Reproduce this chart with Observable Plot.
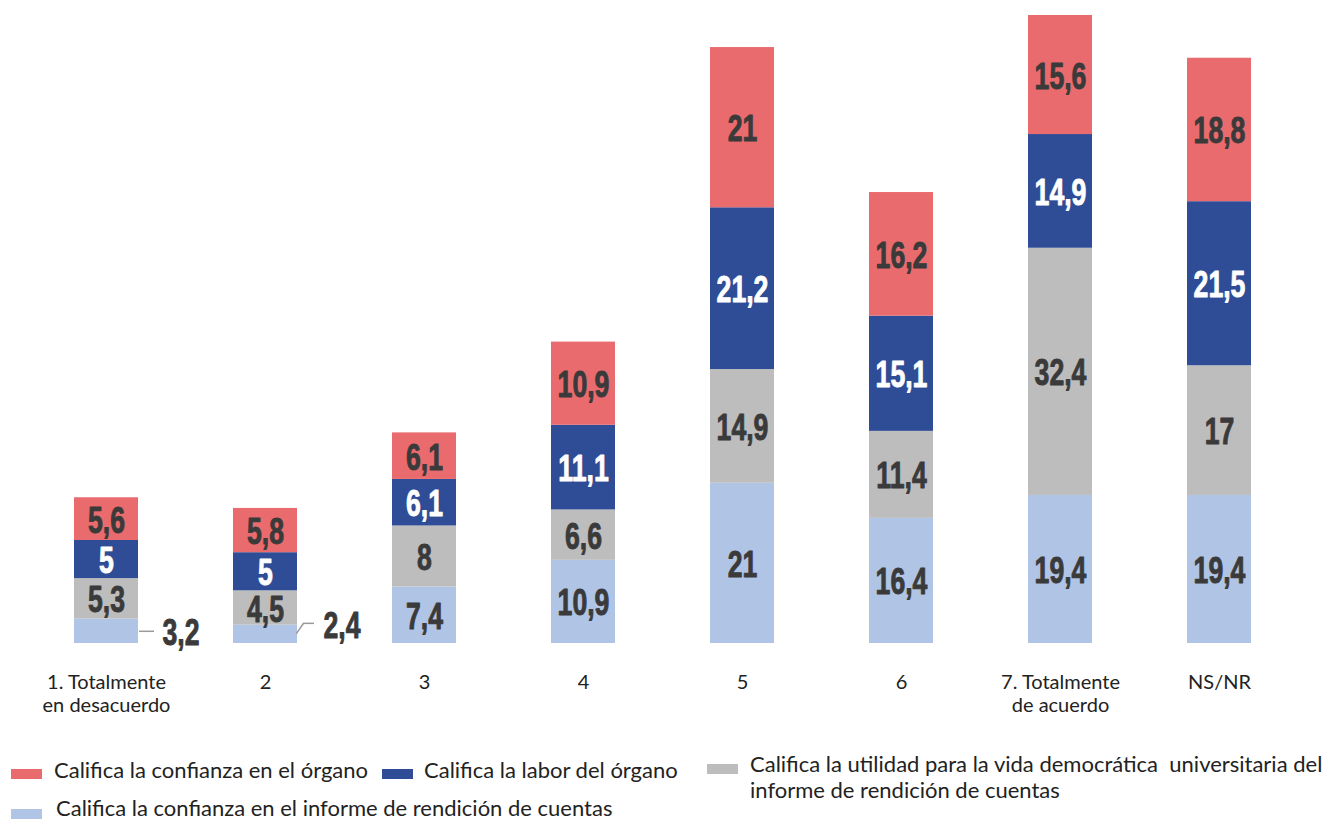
<!DOCTYPE html>
<html><head><meta charset="utf-8">
<script src="https://cdn.jsdelivr.net/npm/d3@7"></script>
<script src="https://cdn.jsdelivr.net/npm/@observablehq/plot@0.6"></script>
<style>
body{margin:0;background:#fff;}
#wrap{position:relative;width:1342px;height:819px;overflow:hidden;font-family:Lato,"Open Sans",sans-serif;color:#222;background:#fff;}
.sw{position:absolute;width:31px;height:10px;}
.lt{position:absolute;font-size:22px;line-height:26px;white-space:nowrap;}
</style></head><body><div id="wrap"><div id="chart"></div>
<div class="sw" style="left:11px;top:769px;background:#E96B6E"></div>
<div class="lt" style="left:54px;top:757px">Califica la confianza en el órgano</div>
<div class="sw" style="left:382px;top:769px;background:#2E4D96"></div>
<div class="lt" style="left:424px;top:757px">Califica la labor del órgano</div>
<div class="sw" style="left:707px;top:764px;background:#BDBDBD"></div>
<div class="lt" style="left:750px;top:751px">Califica la utilidad para la vida democrática&nbsp; universitaria del<br>informe de rendición de cuentas</div>
<div class="sw" style="left:11px;top:809px;background:#B0C4E6"></div>
<div class="lt" style="left:56px;top:797px;line-height:22px">Califica la confianza en el informe de rendición de cuentas</div>
</div>
<script>
const categories = ["1. Totalmente\nen desacuerdo","2","3","4","5","6","7. Totalmente\nde acuerdo","NS/NR"];
const series = [
  "Califica la confianza en el informe de rendición de cuentas",
  "Califica la utilidad para la vida democrática universitaria del informe de rendición de cuentas",
  "Califica la labor del órgano",
  "Califica la confianza en el órgano"
];
const colors = ["#B0C4E6","#BDBDBD","#2E4D96","#E96B6E"];
const confianzaInforme = [3.2,2.4,7.4,10.9,21,16.4,19.4,19.4];
const utilidad = [5.3,4.5,8,6.6,14.9,11.4,32.4,17];
const labor = [5,5,6.1,11.1,21.2,15.1,14.9,21.5];
const confianzaOrgano = [5.6,5.8,6.1,10.9,21,16.2,15.6,18.8];

const fmt = v => String(v).replace(".", ",");
const rows = [];
categories.forEach((c, i) => [confianzaInforme, utilidad, labor, confianzaOrgano].forEach((arr, k) =>
  rows.push({cat: c, series: series[k], value: arr[i]})));
const small = rows.filter(d => d.series === series[0] && d.value < 4);
const labFont = "'Liberation Sans',Arial,sans-serif";
const labStyle = {fontSize: 36, fontWeight: "bold", fontFamily: labFont, className: "seg", strokeWidth: 0.9};
const dark = "#3a3a3a";

const marks = [
  Plot.barY(rows, {x: "cat", y: "value", fill: "series", z: "series"}),
  Plot.text(rows, Plot.stackY({x: "cat", y: "value", z: "series",
    text: d => (d.series === series[2] || d.value < 4) ? "" : fmt(d.value),
    fill: dark, stroke: dark, dy: 2, ...labStyle})),
  Plot.text(rows, Plot.stackY({x: "cat", y: "value", z: "series",
    text: d => d.series === series[2] ? fmt(d.value) : "",
    fill: "#ffffff", stroke: "#ffffff", dy: 2, ...labStyle})),
  Plot.tickY(small.slice(0, 1), {x: "cat", y: d => d.value / 2, dx: 65, insetRight: 49, stroke: "#9a9a9a", strokeWidth: 1.5}),
  Plot.tickY(small.slice(1), {x: "cat", y: d => d.value / 2, dx: 70, dy: -11, insetRight: 53, stroke: "#9a9a9a", strokeWidth: 1.5}),
  Plot.text(small.slice(0, 1), {x: "cat", y: d => d.value / 2, text: d => fmt(d.value), textAnchor: "start", dx: 56, dy: 2,
    fill: dark, stroke: dark, ...labStyle}),
  Plot.text(small.slice(1), {x: "cat", y: d => d.value / 2, text: d => fmt(d.value), textAnchor: "start", dx: 58, dy: -8,
    fill: dark, stroke: dark, ...labStyle}),
  Plot.text(categories, {x: d => d, frameAnchor: "bottom", lineAnchor: "top", dy: 29, lineHeight: 1.15,
    fontSize: 20, fill: "#222", fontFamily: "Lato,'Open Sans',sans-serif"})
];
try {
  marks.push(Plot.vector(small.slice(1), {x: "cat", y: d => d.value / 2, dx: 31, dy: -1, length: 12, rotate: 35, anchor: "start",
    stroke: "#9a9a9a", strokeWidth: 1.5,
    shape: {draw(ctx, l) { ctx.moveTo(0, 0); ctx.lineTo(0, -l); }}}));
} catch (e) {}

const chart = Plot.plot({
  width: 1342, height: 730,
  marginLeft: 24, marginRight: 41, marginTop: 15, marginBottom: 87,
  x: {domain: categories, paddingInner: 0.6, paddingOuter: 0.3, axis: null},
  y: {domain: [0, 82.3], axis: null},
  color: {domain: series, range: colors},
  style: {background: "#fff"},
  marks
});
document.getElementById("chart").appendChild(chart);
chart.querySelectorAll("g.seg text").forEach(t => {
  if (!t.textContent) return;
  const w = t.getComputedTextLength();
  t.setAttribute("textLength", (w * 0.74).toFixed(1));
  t.setAttribute("lengthAdjust", "spacingAndGlyphs");
});
</script></body></html>
